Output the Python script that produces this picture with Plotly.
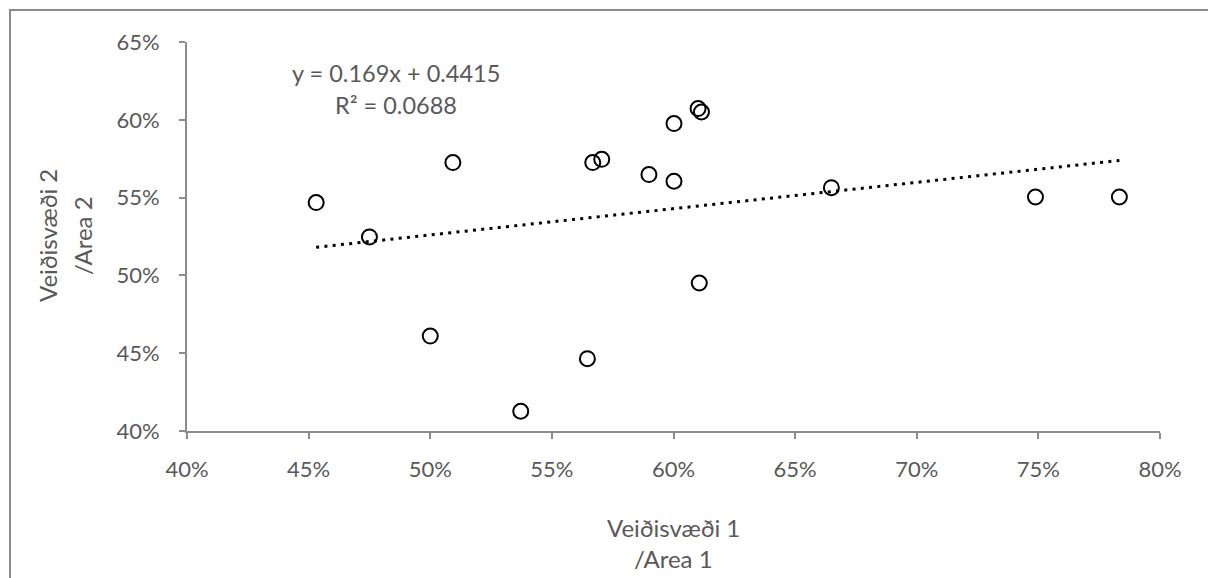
import plotly.graph_objects as go
import numpy as np

# Data (fractions)
area1 = [0.4531, 0.4750, 0.5000, 0.5093, 0.5372, 0.5646, 0.5668, 0.5705,
         0.5899, 0.6002, 0.6002, 0.6101, 0.6115, 0.6106, 0.6649, 0.7488, 0.7833]
area2 = [0.5468, 0.5247, 0.4610, 0.5725, 0.4127, 0.4465, 0.5725, 0.5746,
         0.5648, 0.5976, 0.5605, 0.6072, 0.6050, 0.4951, 0.5564, 0.5504, 0.5504]
slope = 0.169
intercept = 0.4415
eq_text = "y = 0.169x + 0.4415"
r2_text = "R² = 0.0688"
x_ticks = [0.40, 0.45, 0.50, 0.55, 0.60, 0.65, 0.70, 0.75, 0.80]
y_ticks = [0.40, 0.45, 0.50, 0.55, 0.60, 0.65]

FONT = "Lato"
GREY = "#595959"
AXIS = "#8c8c8c"

trend_x = np.array([min(area1), max(area1)])
trend_y = slope * trend_x + intercept

fig = go.Figure()
fig.add_trace(go.Scatter(
    x=trend_x, y=trend_y, mode="lines",
    line=dict(color="black", width=3, dash="3px,5.3px"),
    hoverinfo="skip", showlegend=False))
fig.add_trace(go.Scatter(
    x=area1, y=area2, mode="markers",
    marker=dict(symbol="circle-open", size=15, color="black",
                line=dict(color="black", width=2)),
    showlegend=False))

L, R, T, B = 187, 48, 42, 147
W, H = 1208, 578
pw = W - L - R
ph = H - T - B

def px_to_paper_x(px):
    return (px - L) / pw

def px_to_paper_y(py):
    return (H - B - py) / ph

def ann(text, px, py, size, angle=0):
    return dict(text=text, x=px_to_paper_x(px), y=px_to_paper_y(py),
                xref="paper", yref="paper", showarrow=False,
                xanchor="center", yanchor="middle", textangle=angle,
                font=dict(family=FONT, size=size, color=GREY))

axis_common = dict(showgrid=False, zeroline=False, showline=True,
                   linecolor=AXIS, linewidth=2, ticks="outside",
                   tickcolor=AXIS, ticklen=6, tickwidth=2, tickformat=".0%",
                   tickfont=dict(family=FONT, size=22, color=GREY))

fig.update_layout(
    width=W, height=H,
    margin=dict(l=L, r=R, t=T, b=B, pad=0),
    paper_bgcolor="white", plot_bgcolor="white",
    font=dict(family=FONT, size=16, color=GREY),
    xaxis=dict(range=[0.40, 0.80], tickvals=x_ticks,
               ticklabelstandoff=12, **axis_common),
    yaxis=dict(range=[0.40, 0.65], tickvals=y_ticks,
               ticklabelstandoff=15, **axis_common),
    shapes=[dict(type="rect", xref="paper", yref="paper",
                 x0=px_to_paper_x(10), x1=px_to_paper_x(1220),
                 y0=px_to_paper_y(620), y1=px_to_paper_y(10),
                 line=dict(color="#8a8a8a", width=2), fillcolor="rgba(0,0,0,0)",
                 layer="below")],
    annotations=[
        ann(eq_text, 396, 73, 23.5),
        ann(r2_text, 396, 105, 23.5),
        ann("Veiðisvæði 1", 673, 527, 24),
        ann("/Area 1", 673, 558, 24),
        ann("Veiðisvæði 2", 47, 236, 24, -90),
        ann("/Area 2", 82, 236, 24, -90),
    ],
)

fig.write_html("out.html")
